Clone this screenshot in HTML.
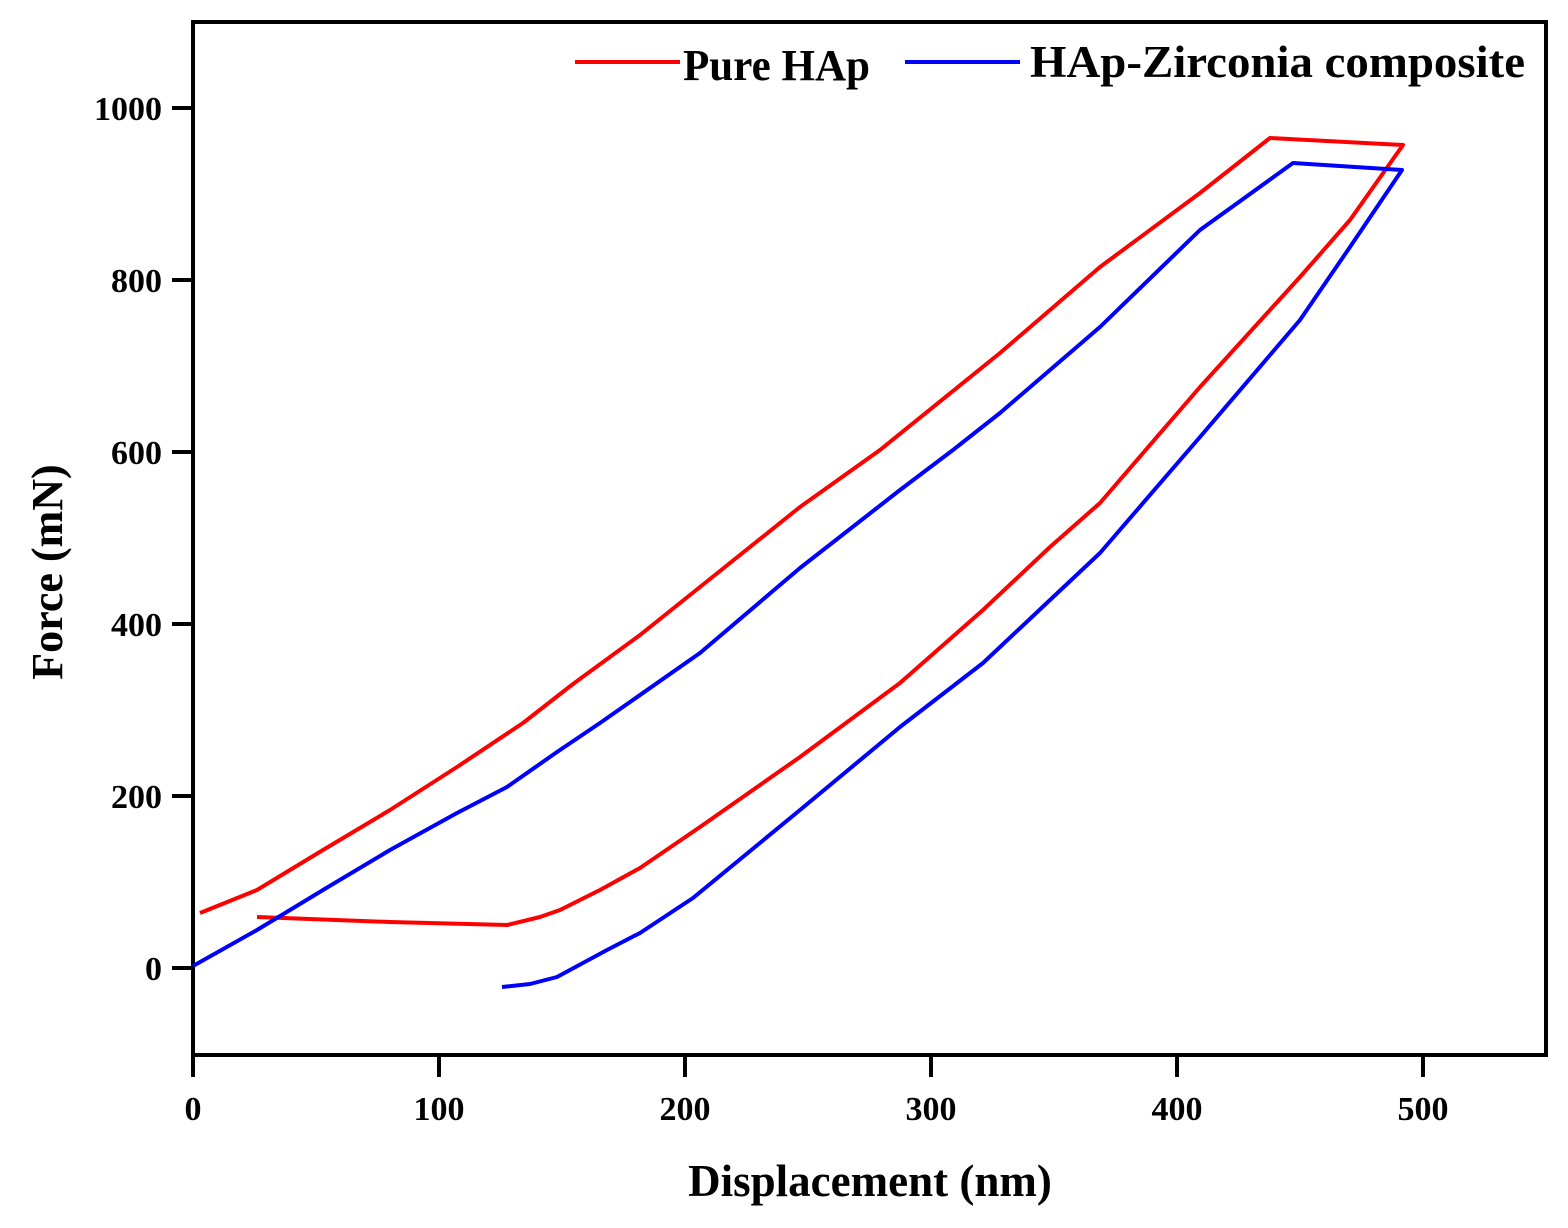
<!DOCTYPE html>
<html><head><style>body{margin:0;background:#fff}</style></head><body>
<svg width="1568" height="1223" xmlns="http://www.w3.org/2000/svg" style="font-family:'Liberation Serif',serif;font-weight:bold">
<rect x="193" y="22" width="1353" height="1033" fill="none" stroke="#000" stroke-width="4"/>
<g stroke="#000" stroke-width="4">
<line x1="193" y1="1055" x2="193" y2="1077"/><line x1="439" y1="1055" x2="439" y2="1077"/><line x1="685" y1="1055" x2="685" y2="1077"/><line x1="931" y1="1055" x2="931" y2="1077"/><line x1="1177" y1="1055" x2="1177" y2="1077"/><line x1="1423" y1="1055" x2="1423" y2="1077"/>
<line x1="172" y1="968" x2="193" y2="968"/><line x1="172" y1="796" x2="193" y2="796"/><line x1="172" y1="624" x2="193" y2="624"/><line x1="172" y1="452" x2="193" y2="452"/><line x1="172" y1="280" x2="193" y2="280"/><line x1="172" y1="108" x2="193" y2="108"/>
</g>
<g font-size="34" text-anchor="middle">
<text x="193" y="1120">0</text><text x="439" y="1120">100</text><text x="685" y="1120">200</text><text x="931" y="1120">300</text><text x="1177" y="1120">400</text><text x="1423" y="1120">500</text>
</g>
<g font-size="34" text-anchor="end">
<text x="162" y="980">0</text><text x="162" y="808">200</text><text x="162" y="636">400</text><text x="162" y="464">600</text><text x="162" y="292">800</text><text x="162" y="120">1000</text>
</g>
<text x="870" y="1196" font-size="45" text-anchor="middle">Displacement (nm)</text>
<text transform="translate(62,572) rotate(-90)" font-size="44" text-anchor="middle">Force (mN)</text>
<g fill="none" stroke-width="4" stroke-linejoin="round">
<polyline stroke="#f00" points="200,913 257,890 323,850 390,810 457,767 523,723 573,684 640,635 700,587 800,507 880,450 1000,353 1100,267 1200,193 1270,138 1403,145 1350,220 1300,277 1200,387 1100,503 1050,547 983,610 900,683 800,757 700,827 640,868 600,890 560,910 540,917 507,925 390,922 257,917"/>
<polyline stroke="#00f" points="193,966 257,930 323,890 390,850 457,813 507,787 557,752 600,723 700,653 800,568 900,490 953,450 1000,413 1100,327 1200,230 1293,163 1402,170 1350,247 1300,320 1200,437 1100,553 1050,600 983,663 900,727 800,810 693,898 640,933 607,950 557,977 530,984 502,987"/>
<line x1="575" y1="62" x2="680" y2="62" stroke="#f00"/>
<line x1="905" y1="62" x2="1020" y2="62" stroke="#00f"/>
</g>
<text x="683" y="80" font-size="44" textLength="187" lengthAdjust="spacingAndGlyphs">Pure HAp</text>
<text x="1030" y="77" font-size="45" textLength="495" lengthAdjust="spacingAndGlyphs">HAp-Zirconia composite</text>
</svg>
</body></html>
